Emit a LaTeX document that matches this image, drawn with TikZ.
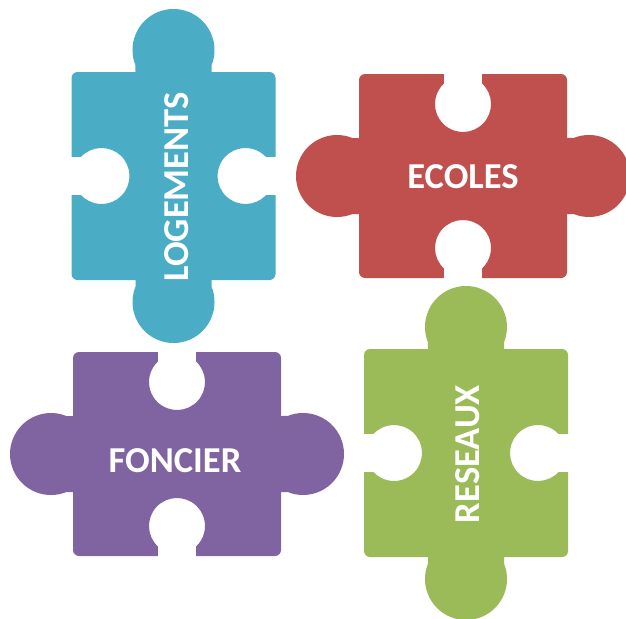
\documentclass[tikz,border=0pt]{standalone}
\usepackage{fontspec}
\setmainfont{Carlito}
\definecolor{logblue}{HTML}{4BACC6}
\definecolor{ecolred}{HTML}{C0504D}
\definecolor{foncpurple}{HTML}{8064A2}
\definecolor{resgreen}{HTML}{9BBB59}
\begin{document}
\begin{tikzpicture}[
  x=1pt,
  y=1pt,
  nhan/.style={text=white, font=\bfseries\fontsize{36.5}{42}\selectfont},
  manh/.pic={
    \fill[#1] (-96,-104) -- (-38,-104) -- (-38,-110.64)
      arc[start angle=158, end angle=382, radius=41] -- (38,-104) -- (96,-104)
      arc[start angle=-90, end angle=0, radius=6] -- (102,-19.1) -- (92.48,-19.1)
      arc[start angle=-43, end angle=-317, radius=28] -- (102,19.1) -- (102,98)
      arc[start angle=0, end angle=90, radius=6] -- (38,104) -- (38,110.64)
      arc[start angle=-22, end angle=202, radius=41] -- (-38,104) -- (-96,104)
      arc[start angle=90, end angle=180, radius=6] -- (-102,19.1) -- (-92.48,19.1)
      arc[start angle=137, end angle=-137, radius=28] -- (-102,-19.1) -- (-102,-98)
      arc[start angle=180, end angle=270, radius=6] -- cycle;
  }
]
  \useasboundingbox (0,0) rectangle (626,-618);
  % các mảnh ghép
  \pic at (173.5,-176) {manh=logblue};
  \pic[rotate=90] at (463,-176) {manh=ecolred};
  \pic[rotate=90] at (177,-454) {manh=foncpurple};
  \pic at (466,-453) {manh=resgreen};
  % các nhãn
  \node[nhan, rotate=90] (logements) at (177,-187) {LOGEMENTS};
  \node[nhan] (ecoles) at (463,-177) {ECOLES};
  \node[nhan] (foncier) at (175,-461) {FONCIER};
  \node[nhan, rotate=90] (reseaux) at (468,-454) {RESEAUX};
\end{tikzpicture}
\end{document}
